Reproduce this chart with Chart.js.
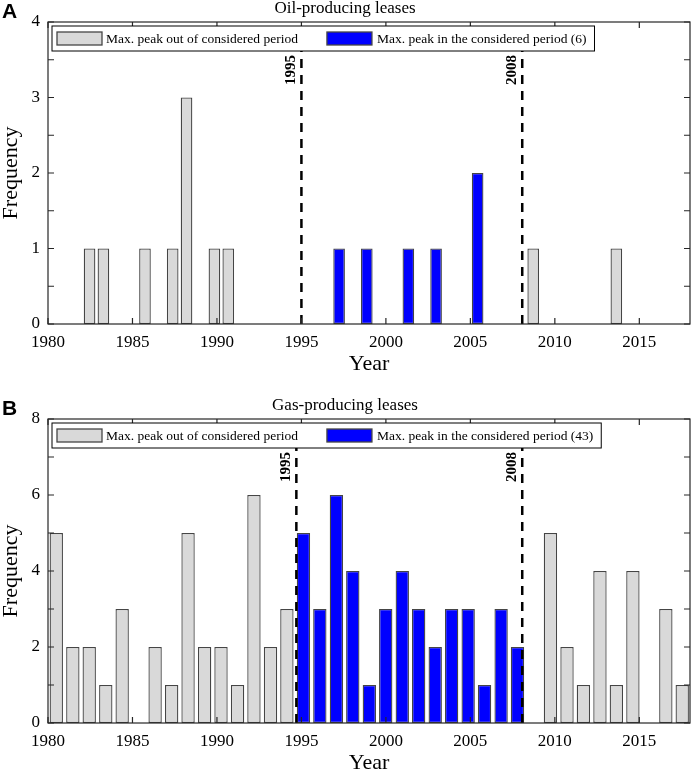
<!DOCTYPE html>
<html>
<head>
<meta charset="utf-8">
<script src="https://cdn.jsdelivr.net/npm/chart.js@4.4.1/dist/chart.umd.min.js"></script>
<style>
body { margin: 0; background: #fff; }
#wrap { position: relative; width: 692px; height: 773px; }
canvas { position: absolute; left: 0; }
#cA { top: 0; }
#cB { top: 397px; }
</style>
</head>
<body>
<div id="wrap">
  <canvas id="cA" width="692" height="397"></canvas>
  <canvas id="cB" width="692" height="376"></canvas>
</div>
<script>
// --- panel A: oil-producing leases (bin centres, years) ---
var oilOutYears  = [1982.46, 1983.28, 1985.74, 1987.38, 1988.20, 1989.85, 1990.67, 2008.72, 2013.64];
var oilOutCounts = [1, 1, 1, 1, 3, 1, 1, 1, 1];
var oilInYears   = [1997.23, 1998.87, 2001.33, 2002.97, 2005.43];
var oilInCounts  = [1, 1, 1, 1, 2];
var oilLines     = [1995.0, 2008.07];

// --- panel B: gas-producing leases ---
var gasOutYears  = [1980.49, 1981.47, 1982.44, 1983.42, 1984.39, 1986.34, 1987.32, 1988.29, 1989.27, 1990.24,
                    1991.22, 1992.19, 1993.17, 1994.14, 2009.74, 2010.72, 2011.69, 2012.67, 2013.64, 2014.62,
                    2016.57, 2017.54];
var gasOutCounts = [5, 2, 2, 1, 3, 2, 1, 5, 2, 2, 1, 6, 2, 3, 5, 2, 1, 4, 1, 4, 3, 1];
var gasInYears   = [1995.12, 1996.09, 1997.07, 1998.04, 1999.02, 1999.99, 2000.97, 2001.94, 2002.92, 2003.89,
                    2004.87, 2005.84, 2006.82, 2007.79];
var gasInCounts  = [5, 3, 6, 4, 1, 3, 4, 3, 2, 3, 3, 1, 3, 2];
var gasLines     = [1994.7, 2008.07];

var xTickYears = [1980, 1985, 1990, 1995, 2000, 2005, 2010, 2015];
var lineLabels = ["1995", "2008"];

var SERIF = "'Liberation Serif', 'Times New Roman', serif";
var GRAY_FILL = "#d9d9d9", BLUE_FILL = "#0000ff", EDGE = "#454545", AXIS = "#262626";

function toPoints(xs, ys) {
    return xs.map(function (x, i) { return { x: x, y: ys[i] }; });
}

// box, inward ticks, period lines, legend, labels
var panelDecor = {
    id: "panelDecor",
    afterDatasetsDraw: function (chart, args, o) {
        var ctx = chart.ctx, a = chart.chartArea, x = chart.scales.x, y = chart.scales.y;
        ctx.save();

        ctx.strokeStyle = "#000";
        ctx.lineWidth = 2.5;
        ctx.setLineDash([9, 7]);
        o.lines.forEach(function (v) {
            var px = x.getPixelForValue(v);
            ctx.beginPath();
            ctx.moveTo(px, a.bottom);
            ctx.lineTo(px, a.top);
            ctx.stroke();
        });
        ctx.setLineDash([]);

        ctx.strokeStyle = AXIS;
        ctx.lineWidth = 1.2;
        ctx.strokeRect(a.left, a.top, a.right - a.left, a.bottom - a.top);
        ctx.beginPath();
        x.ticks.forEach(function (t) {
            var px = x.getPixelForValue(t.value);
            ctx.moveTo(px, a.bottom); ctx.lineTo(px, a.bottom - 6);
            ctx.moveTo(px, a.top); ctx.lineTo(px, a.top + 6);
        });
        y.ticks.forEach(function (t) {
            var py = y.getPixelForValue(t.value);
            ctx.moveTo(a.left, py); ctx.lineTo(a.left + 6, py);
            ctx.moveTo(a.right, py); ctx.lineTo(a.right - 6, py);
        });
        ctx.stroke();

        // legend box
        var ds = chart.data.datasets;
        ctx.font = "13.5px " + SERIF;
        var sw = 45, sh = 13, bh = 25;
        var bx = a.left + 4, by = a.top + 4;
        var w0 = ctx.measureText(ds[0].label).width, w1 = ctx.measureText(ds[1].label).width;
        var bw = 5 + sw + 4 + w0 + 29 + sw + 5 + w1 + 8;
        ctx.fillStyle = "#fff";
        ctx.fillRect(bx, by, bw, bh);
        ctx.strokeStyle = "#000";
        ctx.lineWidth = 1;
        ctx.strokeRect(bx, by, bw, bh);
        var ix = bx + 5, cy = by + bh / 2;
        ds.forEach(function (d, i) {
            ctx.fillStyle = d.backgroundColor;
            ctx.fillRect(ix, cy - sh / 2, sw, sh);
            ctx.strokeStyle = EDGE;
            ctx.lineWidth = 1.3;
            ctx.strokeRect(ix, cy - sh / 2, sw, sh);
            ctx.fillStyle = "#000";
            ctx.textAlign = "left";
            ctx.textBaseline = "middle";
            ctx.fillText(d.label, ix + sw + 4 + i, cy + 1);
            ix += sw + 4 + (i === 0 ? w0 : w1) + 29;
        });

        ctx.fillStyle = "#000";
        ctx.font = "bold 15px " + SERIF;
        ctx.textAlign = "center";
        ctx.textBaseline = "middle";
        o.lines.forEach(function (v, i) {
            ctx.save();
            ctx.translate(x.getPixelForValue(v) - 10, a.top + 48);
            ctx.rotate(-Math.PI / 2);
            ctx.fillText(lineLabels[i], 0, 0);
            ctx.restore();
        });

        ctx.font = "bold 21px 'Liberation Sans', Arial, sans-serif";
        ctx.textAlign = "left";
        ctx.textBaseline = "alphabetic";
        ctx.fillText(o.letter, 2, 18);
        ctx.restore();
    }
};

function buildChart(id, o) {
    return new Chart(document.getElementById(id), {
        type: "bar",
        data: {
            datasets: [{
                label: "Max. peak out of considered period",
                data: toPoints(o.outYears, o.outCounts),
                backgroundColor: GRAY_FILL,
                borderColor: EDGE,
                borderWidth: 1.3,
                borderSkipped: false,
                grouped: false,
                barPercentage: o.barPct,
                categoryPercentage: 1
            }, {
                label: o.inLabel,
                data: toPoints(o.inYears, o.inCounts),
                backgroundColor: BLUE_FILL,
                borderColor: EDGE,
                borderWidth: 1.3,
                borderSkipped: false,
                grouped: false,
                barPercentage: o.barPct,
                categoryPercentage: 1
            }]
        },
        options: {
            responsive: false,
            animation: false,
            layout: { padding: { left: 0, right: 2, top: 0, bottom: 0 } },
            plugins: {
                legend: { display: false },
                tooltip: { enabled: false },
                title: {
                    display: true,
                    text: o.title,
                    color: "#000",
                    font: { family: SERIF, size: 17, weight: "normal", lineHeight: 1 },
                    padding: { top: 0.5, bottom: 4.5 }
                },
                panelDecor: { lines: o.lines, letter: o.letter }
            },
            scales: {
                x: {
                    type: "linear",
                    min: 1980,
                    max: 2018,
                    offset: false,
                    afterBuildTicks: function (s) {
                        s.ticks = xTickYears.map(function (v) { return { value: v }; });
                    },
                    afterFit: function (s) { s.height = o.xAxisHeight; },
                    ticks: {
                        color: "#000",
                        padding: 8,
                        maxRotation: 0,
                        autoSkip: false,
                        font: { family: SERIF, size: 17, lineHeight: 1.2 },
                        callback: function (v) { return String(v); }
                    },
                    grid: { display: false, drawTicks: false },
                    border: { display: false },
                    title: {
                        display: true,
                        text: "Year",
                        color: "#000",
                        font: { family: SERIF, size: 22, lineHeight: 1 },
                        padding: { top: 0, bottom: o.yearPad }
                    }
                },
                y: {
                    min: 0,
                    max: o.yMax,
                    afterFit: function (s) { s.width = 48; },
                    ticks: {
                        stepSize: o.yStep,
                        color: "#000",
                        padding: 8,
                        font: { family: SERIF, size: 17 },
                        callback: function (v) { return v % o.yLabelEvery === 0 ? String(v) : ""; }
                    },
                    grid: { display: false, drawTicks: false },
                    border: { display: false },
                    title: {
                        display: true,
                        text: "Frequency",
                        color: "#000",
                        font: { family: SERIF, size: 22, lineHeight: 1 },
                        padding: { top: 0, bottom: 0 }
                    }
                }
            }
        },
        plugins: [panelDecor]
    });
}

buildChart("cA", {
    title: "Oil-producing leases",
    letter: "A",
    outYears: oilOutYears, outCounts: oilOutCounts,
    inYears: oilInYears, inCounts: oilInCounts,
    inLabel: "Max. peak in the considered period (6)",
    lines: oilLines,
    yMax: 4, yStep: 0.5, yLabelEvery: 1,
    barPct: 0.84,
    xAxisHeight: 73, yearPad: 21.5
});

buildChart("cB", {
    title: "Gas-producing leases",
    letter: "B",
    outYears: gasOutYears, outCounts: gasOutCounts,
    inYears: gasInYears, inCounts: gasInCounts,
    inLabel: "Max. peak in the considered period (43)",
    lines: gasLines,
    yMax: 8, yStep: 1, yLabelEvery: 2,
    barPct: 0.815,
    xAxisHeight: 50, yearPad: -1.5
});
</script>
</body>
</html>
